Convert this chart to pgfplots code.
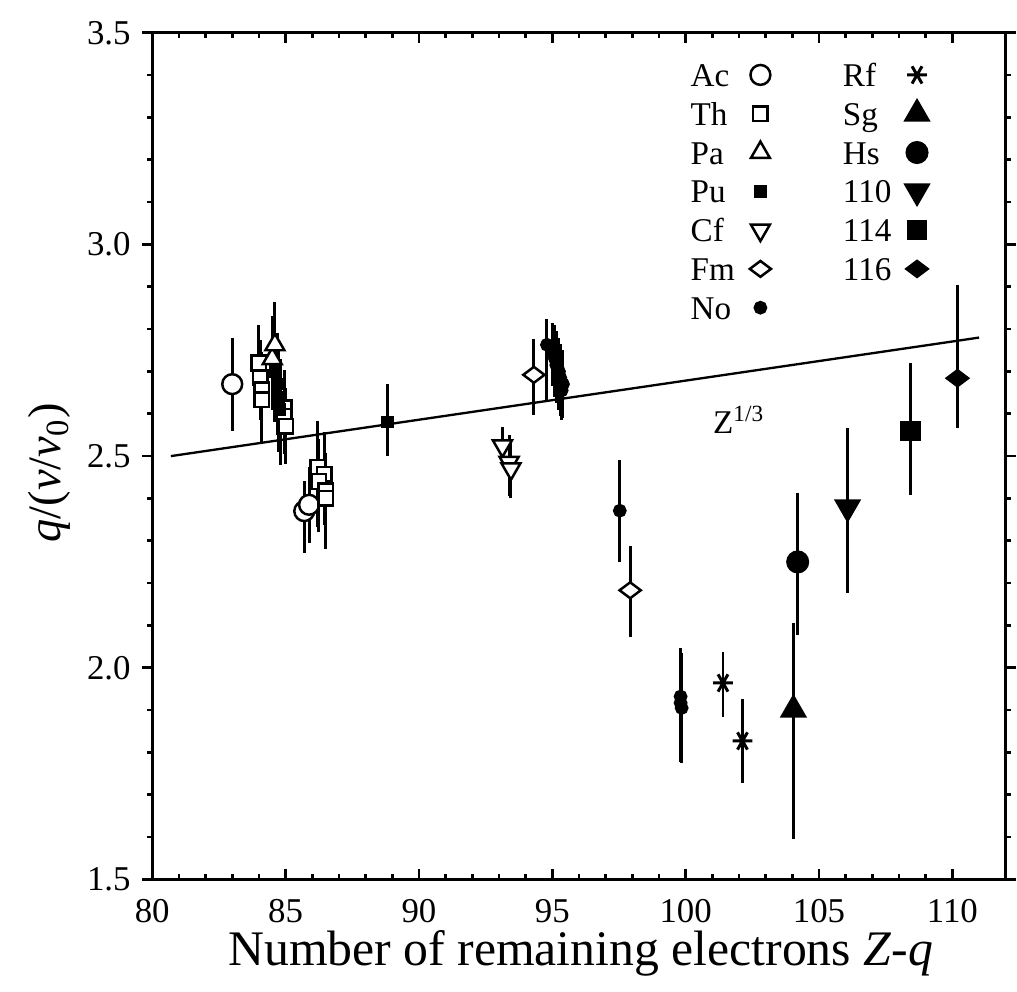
\documentclass[border=0pt]{standalone}
\usepackage{fontspec}
\setmainfont{Liberation Serif}
\usepackage{pgfplots}
\pgfplotsset{compat=1.18}
\usepackage{pgfplotstable}

\pgfplotstableread{
x y ep em
83.0 2.67 0.11 0.11
85.7 2.37 0.07 0.10
85.88 2.385 0.09 0.09
}\dataAc
\pgfplotstableread{
x y ep em
84.0 2.72 0.09 0.09
84.05 2.685 0.09 0.10
84.1 2.657 0.09 0.10
84.1 2.633 0.10 0.10
84.95 2.614 0.09 0.09
84.95 2.594 0.09 0.09
85.0 2.571 0.09 0.09
86.2 2.473 0.11 0.14
86.45 2.457 0.10 0.12
86.25 2.44 0.10 0.12
86.5 2.418 0.09 0.12
86.5 2.40 0.09 0.12
}\dataTh
\pgfplotstableread{
x y ep em
84.5 2.73 0.10 0.12
84.6 2.763 0.10 0.10
}\dataPa
\pgfplotstableread{
x y ep em
84.6 2.70 0.12 0.12
84.7 2.67 0.12 0.12
84.75 2.64 0.12 0.13
84.8 2.61 0.12 0.13
88.82 2.58 0.09 0.08
}\dataPu
\pgfplotstableread{
x y ep em
93.13 2.524 0.045 0.03
93.38 2.485 0.065 0.08
93.45 2.47 0.07 0.07
}\dataCf
\pgfplotstableread{
x y ep em
94.31 2.692 0.085 0.095
97.92 2.183 0.105 0.11
}\dataFm
\pgfplotstableread{
x y ep em
94.8 2.763 0.06 0.13
95.0 2.745 0.07 0.08
95.1 2.73 0.08 0.09
95.15 2.715 0.08 0.09
95.25 2.70 0.08 0.09
95.3 2.685 0.08 0.09
95.4 2.67 0.08 0.08
95.35 2.655 0.07 0.07
97.53 2.371 0.12 0.12
99.81 1.932 0.115 0.14
99.81 1.917 0.12 0.14
99.85 1.905 0.13 0.13
}\dataNo
\pgfplotstableread{
x y ep em
101.4 1.964 0.074 0.08
102.13 1.827 0.10 0.10
}\dataRf
\pgfplotstableread{
x y ep em
104.04 1.901 0.204 0.305
}\dataSg
\pgfplotstableread{
x y ep em
104.2 2.25 0.164 0.173
}\dataHs
\pgfplotstableread{
x y ep em
106.07 2.379 0.188 0.202
}\dataTen
\pgfplotstableread{
x y ep em
108.43 2.56 0.16 0.153
}\dataFourteen
\pgfplotstableread{
x y ep em
110.19 2.684 0.22 0.117
}\dataSixteen

\pgfplotsset{
  eb/.style={only marks, black, line width=0.75pt,
    error bars/y dir=both, error bars/y explicit,
    error bars/error mark=none,
    error bars/error bar style={line width=0.9pt, solid}},
}

\begin{document}
\begin{tikzpicture}
\begin{axis}[
  scale only axis,
  width=257.4pt, height=255.3pt,
  xmin=80, xmax=112, ymin=1.5, ymax=3.5,
  xtick={80,85,90,95,100,105,110},
  minor x tick num=4,
  ytick={1.5,2,2.5,3,3.5},
  minor y tick num=4,
  xtick align=inside, ytick align=outside,
  xtick pos=both, ytick pos=both,
  major tick length=3pt, minor tick length=1.6pt,
  every tick/.style={black, line width=0.8pt},
  axis line style={line width=0.9pt},
  /pgf/number format/assume math mode=true,
  tick label style={font=\fontsize{10.5}{12.5}\selectfont},
  xticklabel style={yshift=-2.5pt},
  yticklabel style={/pgf/number format/.cd, fixed, fixed zerofill, precision=1},
  xlabel={Number of remaining electrons \textit{Z}-\textit{q}},
  ylabel={\textit{q}/(\textit{v}/\textit{v}\textsubscript{0})},
  xlabel style={at={(axis description cs:0.502,-0.087)}, anchor=center, inner sep=0pt, font=\fontsize{15}{18}\selectfont},
  ylabel style={at={(axis description cs:-0.12,0.48)}, anchor=center, inner sep=0pt, font=\fontsize{14}{16}\selectfont},
  legend columns=2,
  legend plot pos=right,
  legend cell align=left,
  legend style={draw=none, fill=none, at={(axis cs:100.1,3.435)}, anchor=north west,
    inner sep=0pt, font=\fontsize{10}{12}\selectfont, row sep=1.3pt,
    nodes={inner sep=0.5pt, text height=7.2pt, text depth=2.2pt},
    /tikz/every odd column/.append style={column sep=3.2pt},
    /tikz/every even column/.append style={column sep=20.4pt}},
  legend image code/.code={\draw[#1, overlay] plot coordinates {(0pt,1pt)};
    \path[draw=none, fill=none] (-4pt,-2.5pt) rectangle (4pt,4.5pt);},
]
\addplot[black, line width=0.7pt, forget plot] coordinates {(80.7,2.50) (111,2.78)};
\node[font=\fontsize{10}{12}\selectfont] at (axis cs:102.0,2.585) {Z\textsuperscript{1/3}};

\addplot[eb, mark=*, mark size=3pt, mark options={fill=white, solid}]
  table[x=x, y=y, y error plus=ep, y error minus=em] {\dataAc};
\addlegendentry{Ac}
\addplot[eb, mark=asterisk, mark size=3pt, mark options={rotate=90, solid, line width=0.9pt}]
  table[x=x, y=y, y error plus=ep, y error minus=em] {\dataRf};
\addlegendentry{Rf}
\addplot[eb, mark=square*, mark size=2.2pt, mark options={fill=white, solid}]
  table[x=x, y=y, y error plus=ep, y error minus=em] {\dataTh};
\addlegendentry{Th}
\addplot[eb, mark=triangle*, mark size=4pt, mark options={fill=black, solid}]
  table[x=x, y=y, y error plus=ep, y error minus=em] {\dataSg};
\addlegendentry{Sg}
\addplot[eb, mark=triangle*, mark size=3.3pt, mark options={fill=white, solid}]
  table[x=x, y=y, y error plus=ep, y error minus=em] {\dataPa};
\addlegendentry{Pa}
\addplot[eb, mark=*, mark size=3.1pt, mark options={fill=black, solid}]
  table[x=x, y=y, y error plus=ep, y error minus=em] {\dataHs};
\addlegendentry{Hs}
\addplot[eb, mark=square*, mark size=1.5pt, mark options={fill=black, solid}]
  table[x=x, y=y, y error plus=ep, y error minus=em] {\dataPu};
\addlegendentry{Pu}
\addplot[eb, mark=triangle*, mark size=4pt, mark options={fill=black, solid, rotate=180}]
  table[x=x, y=y, y error plus=ep, y error minus=em] {\dataTen};
\addlegendentry{110}
\addplot[eb, mark=triangle*, mark size=3.3pt, mark options={fill=white, solid, rotate=180}]
  table[x=x, y=y, y error plus=ep, y error minus=em] {\dataCf};
\addlegendentry{Cf}
\addplot[eb, mark=square*, mark size=2.7pt, mark options={fill=black, solid}]
  table[x=x, y=y, y error plus=ep, y error minus=em] {\dataFourteen};
\addlegendentry{114}
\addplot[eb, mark=diamond*, mark size=3.2pt, mark options={fill=white, solid, rotate=90}]
  table[x=x, y=y, y error plus=ep, y error minus=em] {\dataFm};
\addlegendentry{Fm}
\addplot[eb, mark=diamond*, mark size=3.2pt, mark options={fill=black, solid, rotate=90}]
  table[x=x, y=y, y error plus=ep, y error minus=em] {\dataSixteen};
\addlegendentry{116}
\addplot[eb, mark=*, mark size=1.7pt, mark options={fill=black, solid}]
  table[x=x, y=y, y error plus=ep, y error minus=em] {\dataNo};
\addlegendentry{No}
\end{axis}
\path (-45.9pt,-33.9pt) rectangle (259.2pt,265.2pt);
\end{tikzpicture}
\end{document}
